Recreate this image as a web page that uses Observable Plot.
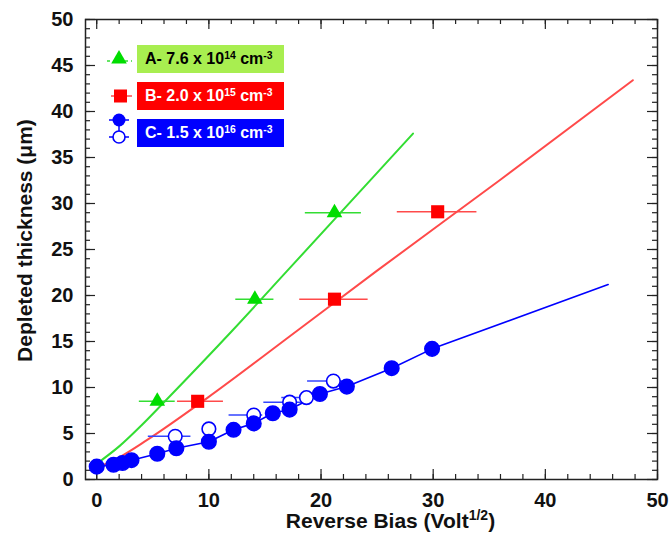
<!DOCTYPE html>
<html><head><meta charset="utf-8">
<script src="https://cdn.jsdelivr.net/npm/d3@7"></script>
<script src="https://cdn.jsdelivr.net/npm/@observablehq/plot@0.6"></script>
<style>
body{margin:0;background:#fff;}
#wrap{position:relative;width:670px;height:543px;font-family:"Liberation Sans",Arial,Helvetica,sans-serif;}
.lbox{position:absolute;left:137px;width:147px;height:28px;box-sizing:border-box;padding-left:8px;font-weight:bold;font-size:16px;line-height:28px;white-space:nowrap;}
.lbox sup{font-size:0.65em;vertical-align:0.5em;line-height:0;}
#legsvg{position:absolute;left:0;top:0;pointer-events:none;}
</style></head><body><div id="wrap"></div>
<script>
// ---- Data ----
// Series A (triangles): 7.6e14 cm^-3
const aX = [5.4, 14.1, 21.2];
const aY = [8.5, 19.6, 29.0];
const aXlo = [3.8, 12.4, 18.6];
const aXhi = [7.0, 15.8, 23.6];
const aFitX = [0.1, 2.0, 4.0, 6.0, 12.1, 17.0, 25.2, 28.2];
const aFitY = [1.8, 3.6, 5.9, 8.4, 16.2, 22.7, 33.6, 37.6];
// Series B (squares): 2.0e15 cm^-3
const bX = [9.0, 21.2, 30.4];
const bY = [8.5, 19.6, 29.1];
const bXlo = [7.2, 18.1, 26.8];
const bXhi = [11.3, 24.2, 33.9];
const bFitX = [0.1, 2.0, 4.5, 9.9, 17.9, 25.0, 35.9, 47.8];
const bFitY = [1.3, 2.4, 4.3, 8.9, 16.2, 22.7, 32.5, 43.4];
// Series C (circles): 1.5e16 cm^-3, filled
const cX = [0.0, 1.5, 2.3, 3.1, 5.4, 7.1, 10.0, 12.2, 14.0, 15.7, 17.2, 19.9, 22.3, 26.3, 29.9];
const cY = [1.4, 1.6, 1.8, 2.1, 2.8, 3.4, 4.1, 5.4, 6.1, 7.2, 7.6, 9.3, 10.1, 12.1, 14.2];
// Series C open circles
const coX = [7.0, 10.0, 14.0, 17.2, 18.7, 21.1];
const coY = [4.7, 5.5, 7.0, 8.4, 8.9, 10.7];
const coXlo = [4.6, 10.0, 11.8, 14.9, 16.5, 18.8];
const coXhi = [8.4, 10.0, 14.8, 18.4, 19.8, 22.6];
// Series C fit line end
const cFitEndX = [45.6];
const cFitEndY = [21.2];
// Axis ticks
const xMajor = [0, 10, 20, 30, 40, 50];
const xMinor = d3.range(0, 51, 2);
const yMajor = [0, 5, 10, 15, 20, 25, 30, 35, 40, 45, 50];
const yMinor = d3.range(0, 51, 1);
const xLabel = "Reverse Bias (Volt1/2)";
const yLabel = "Depleted thickness (μm)";

// ---- Build tables ----
const ptsA = aX.map((x, i) => ({x, y: aY[i], lo: aXlo[i], hi: aXhi[i]}));
const ptsB = bX.map((x, i) => ({x, y: bY[i], lo: bXlo[i], hi: bXhi[i]}));
const fitA = aFitX.map((x, i) => ({x, y: aFitY[i]}));
const fitB = bFitX.map((x, i) => ({x, y: bFitY[i]}));
const ptsC = cX.map((x, i) => ({x, y: cY[i]}));
const ptsCo = coX.map((x, i) => ({x, y: coY[i], lo: coXlo[i], hi: coXhi[i]}));
const lineC = ptsC.concat(cFitEndX.map((x, i) => ({x, y: cFitEndY[i]})));

const W = 670, H = 543, mL = 85, mR = 13, mT = 19, mB = 64;
const pW = W - mL - mR, pH = H - mT - mB;
const GREEN = "#00dd00", GREENL = "#33dd33", RED = "#ff0000", REDL = "#ff4a4a", BLUE = "#0000ff";
const INK = "#222";

const chart = Plot.plot({
  width: W, height: H,
  marginLeft: mL, marginRight: mR, marginTop: mT, marginBottom: mB,
  style: {fontFamily: "'Liberation Sans', Arial, Helvetica, sans-serif", fontWeight: "bold", background: "white", color: "#111"},
  x: {domain: [-1, 50]},
  y: {domain: [0, 50]},
  marks: [
    // ticks (inward, all four sides)
    Plot.ruleX(xMinor, {insetTop: pH - 5, stroke: INK, strokeWidth: 1.2}),
    Plot.ruleX(xMajor, {insetTop: pH - 10, stroke: INK, strokeWidth: 1.2}),
    Plot.ruleX(xMinor, {insetBottom: pH - 5, stroke: INK, strokeWidth: 1.2}),
    Plot.ruleX(xMajor, {insetBottom: pH - 10, stroke: INK, strokeWidth: 1.2}),
    Plot.ruleY(yMinor, {insetRight: pW - 5, stroke: INK, strokeWidth: 1.2}),
    Plot.ruleY(yMajor, {insetRight: pW - 10, stroke: INK, strokeWidth: 1.2}),
    Plot.ruleY(yMinor, {insetLeft: pW - 5, stroke: INK, strokeWidth: 1.2}),
    Plot.ruleY(yMajor, {insetLeft: pW - 10, stroke: INK, strokeWidth: 1.2}),
    Plot.frame({stroke: INK, strokeWidth: 1.5}),
    Plot.axisX({ticks: xMajor, tickSize: 0, tickPadding: 13, fontSize: 20, label: null}),
    Plot.axisY({ticks: yMajor, tickSize: 0, tickPadding: 12, fontSize: 20, label: null}),
    Plot.text([xLabel], {frameAnchor: "bottom", textAnchor: "middle", dx: 19, dy: 42, fontSize: 21, fontWeight: "bold", lineAnchor: "middle"}),
    Plot.text([yLabel], {frameAnchor: "left", textAnchor: "middle", dx: -60, dy: -9, rotate: -90, fontSize: 21, fontWeight: "bold", lineAnchor: "middle"}),
    // fit lines
    Plot.line(fitA, {x: "x", y: "y", stroke: GREENL, strokeWidth: 2, curve: "monotone-x"}),
    Plot.line(fitB, {x: "x", y: "y", stroke: REDL, strokeWidth: 2, curve: "monotone-x"}),
    Plot.line(lineC, {x: "x", y: "y", stroke: BLUE, strokeWidth: 1.6}),
    // error bars
    Plot.ruleY(ptsA, {y: "y", x1: "lo", x2: "hi", stroke: GREENL, strokeWidth: 1.5}),
    Plot.ruleY(ptsB, {y: "y", x1: "lo", x2: "hi", stroke: REDL, strokeWidth: 1.5}),
    Plot.ruleY(ptsCo, {y: "y", x1: "lo", x2: "hi", stroke: "#3344ff", strokeWidth: 1.5}),
    // markers
    Plot.dot(ptsCo, {x: "x", y: "y", r: 6.8, fill: "white", stroke: BLUE, strokeWidth: 1.6}),
    Plot.dot(ptsC, {x: "x", y: "y", r: 7.3, fill: BLUE, stroke: BLUE}),
    Plot.dot(ptsA, {x: "x", y: "y", symbol: "triangle", r: 5.8, fill: GREEN}),
    Plot.dot(ptsB, {x: "x", y: "y", symbol: "square", r: 7.4, fill: RED})
  ]
});

// superscript in x label
chart.querySelectorAll("text").forEach(t => {
  if (t.textContent === xLabel) {
    t.textContent = "";
    const ns = "http://www.w3.org/2000/svg";
    const a = document.createElementNS(ns, "tspan"); a.textContent = "Reverse Bias (Volt"; t.appendChild(a);
    const b = document.createElementNS(ns, "tspan"); b.textContent = "1/2"; b.setAttribute("font-size", "14"); b.setAttribute("dy", "-8"); t.appendChild(b);
    const c = document.createElementNS(ns, "tspan"); c.textContent = ")"; c.setAttribute("dy", "8"); t.appendChild(c);
  }
});

const wrap = document.getElementById("wrap");
wrap.appendChild(chart);

// legend (HTML boxes + small svg markers)
const legend = [
  {top: 45, bg: "#a8ee50", color: "#000", html: "A- 7.6 x 10<sup>14</sup> cm<sup>-3</sup>"},
  {top: 82, bg: "#ff0000", color: "#fff", html: "B- 2.0 x 10<sup>15</sup> cm<sup>-3</sup>"},
  {top: 119, bg: "#0000ff", color: "#fff", html: "C- 1.5 x 10<sup>16</sup> cm<sup>-3</sup>"}
];
legend.forEach(l => {
  const d = document.createElement("div");
  d.className = "lbox";
  d.style.top = l.top + "px";
  d.style.background = l.bg;
  d.style.color = l.color;
  d.innerHTML = l.html;
  wrap.appendChild(d);
});
const svg = d3.select(wrap).append("svg").attr("id", "legsvg").attr("width", W).attr("height", H);
svg.append("line").attr("x1", 107).attr("x2", 132).attr("y1", 61).attr("y2", 61).attr("stroke", GREENL).attr("stroke-width", 1.5).attr("stroke-dasharray", "3,3");
svg.append("path").attr("d", d3.symbol(d3.symbolTriangle, Math.PI * 5.8 * 5.8)()).attr("transform", "translate(119,59)").attr("fill", GREEN);
svg.append("line").attr("x1", 111).attr("x2", 132).attr("y1", 96).attr("y2", 96).attr("stroke", REDL).attr("stroke-width", 1.5);
svg.append("rect").attr("x", 114).attr("y", 89.5).attr("width", 13).attr("height", 13).attr("fill", RED);
svg.append("line").attr("x1", 119).attr("x2", 119).attr("y1", 120).attr("y2", 137).attr("stroke", BLUE).attr("stroke-width", 1.5);
svg.append("line").attr("x1", 109).attr("x2", 129).attr("y1", 120).attr("y2", 120).attr("stroke", BLUE).attr("stroke-width", 1.5);
svg.append("line").attr("x1", 109).attr("x2", 129).attr("y1", 137).attr("y2", 137).attr("stroke", BLUE).attr("stroke-width", 1.5);
svg.append("circle").attr("cx", 119).attr("cy", 120).attr("r", 6.5).attr("fill", BLUE);
svg.append("circle").attr("cx", 119).attr("cy", 137).attr("r", 6).attr("fill", "white").attr("stroke", BLUE).attr("stroke-width", 1.6);
</script>
</body></html>
